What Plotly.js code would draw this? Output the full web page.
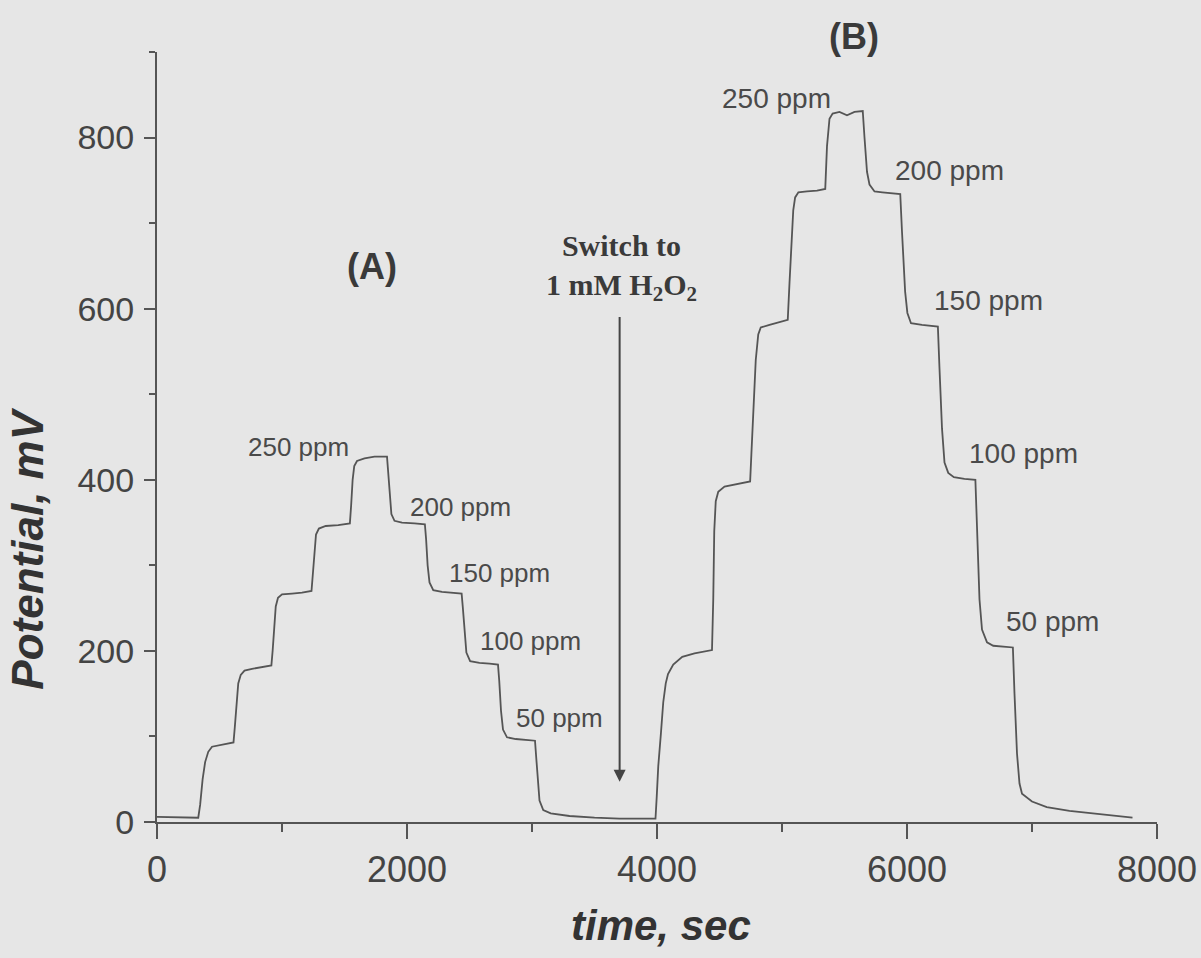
<!DOCTYPE html>
<html>
<head>
<meta charset="utf-8">
<script src="https://cdn.plot.ly/plotly-3.0.1.min.js"></script>
<style>html,body{margin:0;padding:0;background:#e6e6e6;}#chart{width:1201px;height:958px;}</style>
</head>
<body>
<div id="chart"></div>
<script>
// time (s) and potential (mV)
const timeSec = [
  0,150,330,345,365,385,410,440,500,560,612,622,635,650,670,700,760,840,915,925,938,950,968,1000,1080,1160,1236,
  1246,1258,1272,1295,1350,1450,1543,1553,1565,1578,1600,1660,1740,1840,1850,1862,1875,1900,1960,2060,2143,
  2153,2165,2180,2210,2280,2360,2437,2447,2460,2475,2505,2580,2660,2728,2738,2752,2768,2800,2870,2960,3024,
  3034,3046,3060,3090,3150,3300,3500,3700,3988,
  3998,4010,4031,4050,4070,4088,4130,4202,4300,4402,4440,
  4450,4458,4470,4490,4540,4640,4745,
  4755,4790,4810,4830,4900,4980,5046,
  5060,5090,5105,5131,5200,5280,5346,
  5360,5380,5405,5460,5520,5580,5646,
  5660,5680,5700,5740,5803,5880,5946,
  5960,5985,6003,6032,6120,6247,
  6260,6280,6300,6330,6375,6460,6547,
  6560,6580,6600,6640,6690,6770,6847,
  6860,6880,6900,6920,7000,7118,7300,7548,7804
];
const potentialMV = [
  6,5.5,5,20,50,70,82,88,90,92,93,110,140,162,172,177,179,181,183,200,230,252,262,266,267,268,270,
  290,320,336,343,346,347,349,370,400,416,422,425,427,427,410,380,360,352,350,349,348,
  330,300,280,271,269,268,267,250,220,198,188,186,185,184,165,130,108,99,97,96,95,
  75,45,25,14,10,7,5,4,4,
  30,65,103,140,162,173,184,193,197,200,201,
  260,340,375,386,392,395,398,
  430,540,570,578,581,584,587,
  630,715,730,736,737,738,740,
  790,822,828,830,826,830,831,
  800,760,745,737,736,735,734,
  690,620,595,583,581,579,
  530,460,420,408,403,401,400,
  340,260,225,210,206,205,204,
  150,80,45,33,24,17.5,13,9,5
];

// concentration labels
const ppmLabels = ['250 ppm','200 ppm','150 ppm','100 ppm','50 ppm'];
const xTickVals = [0,2000,4000,6000,8000];
const yTickVals = [0,200,400,600,800];

// label anchor positions (data coords)
const labelPosA = [[1130,438],[2424,368],[2736,291],[2984,212],[3216,121]];
const labelPosB = [[4952,846],[6339,762],[6648,610],[6932,431],[7162,234]];

const gray = '#4a4a4a';
const sans = 'Liberation Sans, Arial, Helvetica, sans-serif';
const serif = 'Liberation Serif, Times New Roman, serif';

const annotations = [];
ppmLabels.forEach((t,i)=>{
  annotations.push({x:labelPosA[i][0], y:labelPosA[i][1], xref:'x', yref:'y', text:t, showarrow:false,
    xanchor:'center', yanchor:'middle', font:{family:sans, size:26, color:gray}});
  annotations.push({x:labelPosB[i][0], y:labelPosB[i][1], xref:'x', yref:'y', text:t, showarrow:false,
    xanchor:'center', yanchor:'middle', font:{family:sans, size:28, color:gray}});
});
annotations.push({x:1720, y:649, xref:'x', yref:'y', text:'<b>(A)</b>', showarrow:false,
  xanchor:'center', yanchor:'middle', font:{family:sans, size:36, color:'#3a3a3a'}});
annotations.push({x:0.6965, y:1.02, xref:'paper', yref:'paper', text:'<b>(B)</b>', showarrow:false,
  xanchor:'center', yanchor:'middle', font:{family:sans, size:36, color:'#3a3a3a'}});
annotations.push({x:3717, y:648, xref:'x', yref:'y', text:'<b>Switch to<br>1 mM H<sub>2</sub>O<sub>2</sub></b>', showarrow:false,
  xanchor:'center', yanchor:'middle', font:{family:serif, size:30, color:'#3a3a3a'}});
annotations.push({x:3701, y:47, xref:'x', yref:'y', ax:3701, ay:592, axref:'x', ayref:'y', text:'',
  showarrow:true, arrowhead:2, arrowsize:1.2, arrowwidth:2, arrowcolor:'#444'});
annotations.push({x:0.504, y:-0.134, xref:'paper', yref:'paper', text:'<b><i>time, sec</i></b>', showarrow:false,
  xanchor:'center', yanchor:'middle', font:{family:sans, size:42, color:'#333'}});
annotations.push({x:-0.129, y:0.355, xref:'paper', yref:'paper', text:'<b><i>Potential, mV</i></b>', showarrow:false,
  textangle:-90, xanchor:'center', yanchor:'middle', font:{family:sans, size:44, color:'#333'}});

const trace = {x:timeSec, y:potentialMV, type:'scatter', mode:'lines',
  line:{color:'#555', width:1.8, shape:'linear'}, hoverinfo:'skip'};

const layout = {
  width:1201, height:958,
  margin:{l:157, r:44, t:52, b:136},
  paper_bgcolor:'#e6e6e6', plot_bgcolor:'#e6e6e6',
  showlegend:false,
  xaxis:{range:[0,8000], tickvals:xTickVals, ticktext:xTickVals.map(String), ticks:'outside', ticklen:15, tickwidth:2,
    tickcolor:'#555', showline:true, linecolor:'#555', linewidth:2, showgrid:false, zeroline:false,
    ticklabelstandoff:0,
    minor:{dtick:1000, tick0:0, ticks:'outside', ticklen:8, tickwidth:2, tickcolor:'#555', showgrid:false},
    tickfont:{family:sans, size:36, color:'#444'}},
  yaxis:{range:[0,900], tickvals:yTickVals, ticktext:yTickVals.map(String), ticks:'outside', ticklen:11, tickwidth:2,
    tickcolor:'#555', showline:true, linecolor:'#555', linewidth:2, showgrid:false, zeroline:false,
    ticklabelstandoff:3,
    minor:{dtick:100, tick0:0, ticks:'outside', ticklen:6, tickwidth:2, tickcolor:'#555', showgrid:false},
    tickfont:{family:sans, size:34, color:'#444'}},
  annotations:annotations
};

Plotly.newPlot('chart', [trace], layout, {displayModeBar:false, staticPlot:true});
</script>
</body>
</html>
